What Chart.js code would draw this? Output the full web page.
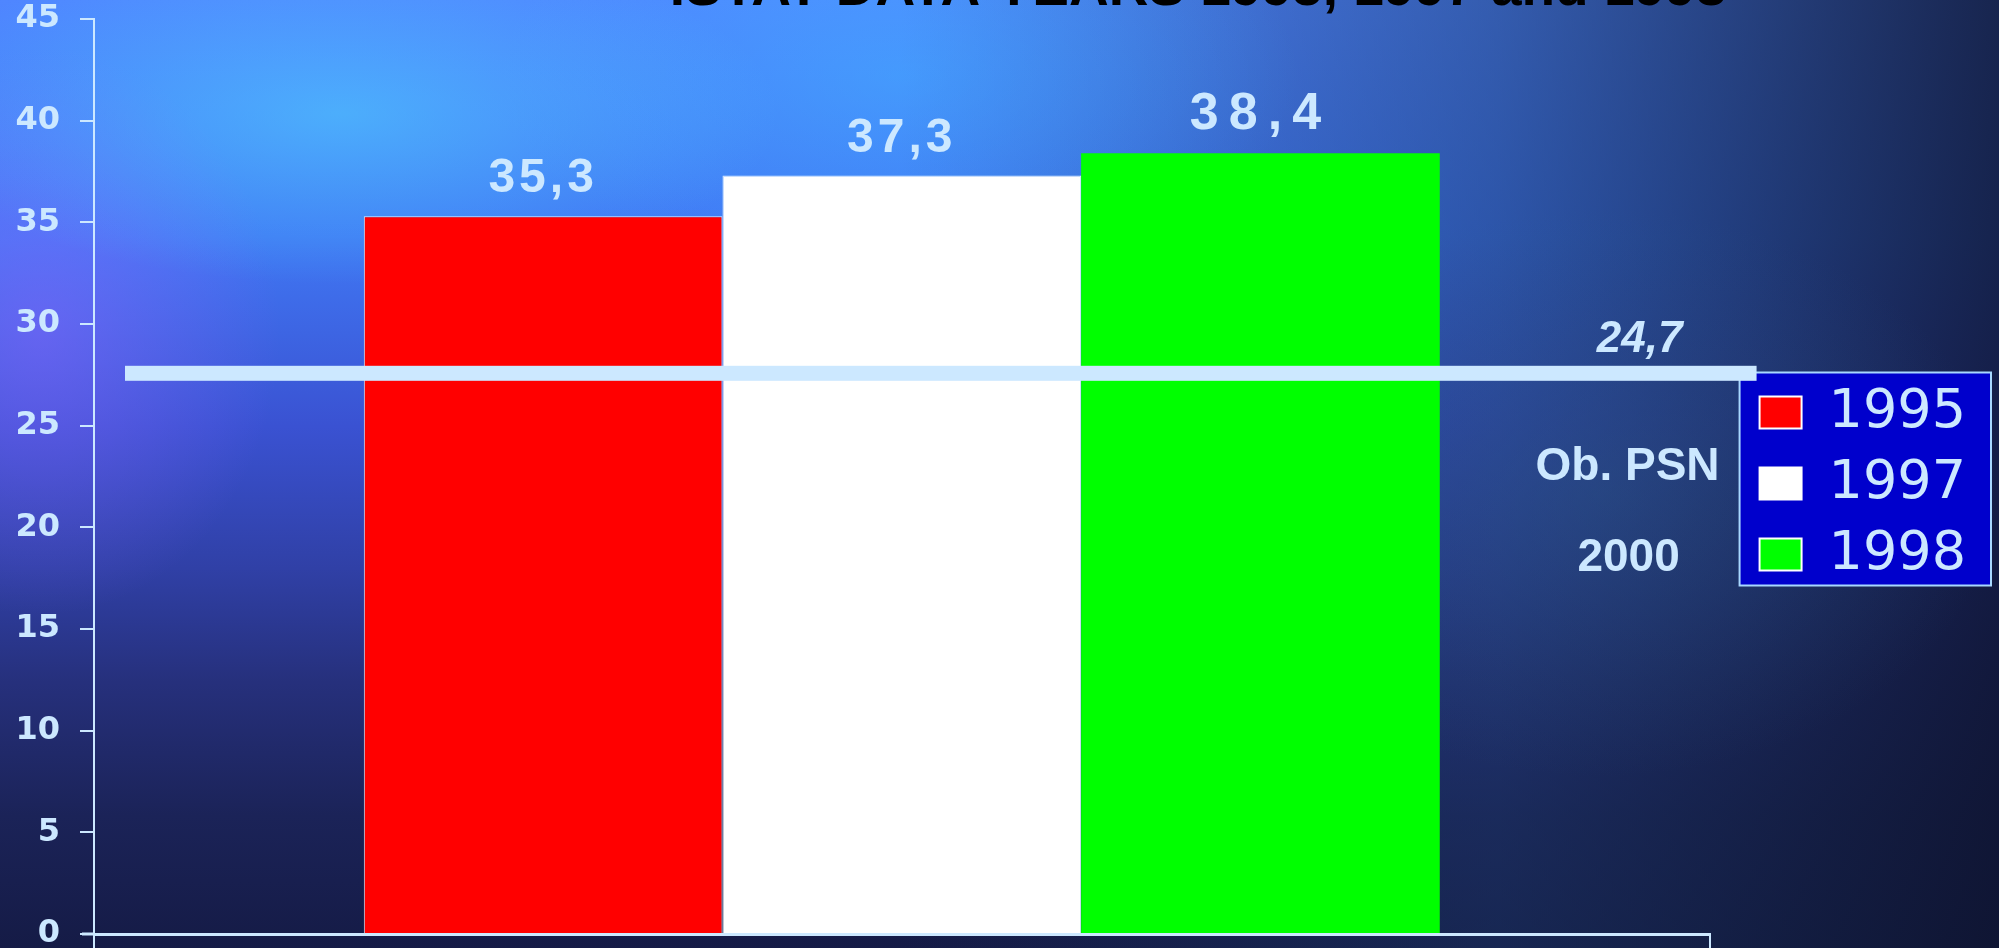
<!DOCTYPE html>
<html lang="en">
<head>
    <meta charset="UTF-8">
    <title>ISTAT data years 1995, 1997 and 1998</title>
    <style>
        body {
            margin: 0;
            width: 1999px;
            height: 948px;
            overflow: hidden;
            background:
                radial-gradient(ellipse 22% 18% at 17% 12%, rgba(80, 220, 255, 0.5), rgba(80, 220, 255, 0) 100%),
                radial-gradient(ellipse 20% 22% at 45% 8%, rgba(60, 190, 255, 0.4), rgba(60, 190, 255, 0) 100%),
                radial-gradient(ellipse 12% 30% at 2% 35%, rgba(140, 100, 255, 0.5), rgba(140, 100, 255, 0) 100%),
                radial-gradient(ellipse 20% 30% at 80% 52%, rgba(45, 95, 135, 0.35), rgba(45, 95, 135, 0) 100%),
                linear-gradient(to right, rgba(10, 15, 40, 0) 45%, rgba(25, 50, 95, 0.5) 75%, rgba(14, 20, 48, 0.85) 100%),
                linear-gradient(to bottom, #4f86ff 0%, #4078f4 25%, #3a52d2 45%, #3040a6 60%, #26307c 72%, #1b2358 86%, #151b46 100%);
        }
        #chart-container {
            position: relative;
            width: 1999px;
            height: 948px;
        }
    </style>
</head>
<body>
    <div id="chart-container">
        <canvas id="istatChart"></canvas>
    </div>

    <script src="https://cdn.jsdelivr.net/npm/chart.js"></script>

    <script>
        // Chart data
        const titleText = 'ISTAT DATA YEARS 1995, 1997 and 1998';
        const categories = [''];
        const years = ['1995', '1997', '1998'];
        const values = [35.3, 37.3, 38.4];
        const valueLabels = ['35,3', '37,3', '38,4'];
        const refLineValue = 27.6;
        const refLineLabel = '24,7';
        const refNoteLines = ['Ob. PSN', '2000'];
        const yMin = 0;
        const yMax = 45;
        const yStep = 5;

        // Styles
        const barColors = ['#ff0000', '#ffffff', '#00ff00'];
        const barBorders = [1, 1, 0];
        const labelSizes = [48, 48, 52];
        const labelSpacing = ['4px', '4px', '10px'];
        const paleBlue = '#cce8ff';

        // Title, cut off by the top edge like in the slide
        const titlePlugin = {
            id: 'slideTitle',
            afterDraw(chart) {
                const ctx = chart.ctx;
                ctx.save();
                ctx.font = 'bold 55px "Liberation Sans", Arial, sans-serif';
                ctx.fillStyle = '#000000';
                ctx.textAlign = 'center';
                ctx.textBaseline = 'alphabetic';
                ctx.fillText(titleText, 1198, 5);
                ctx.restore();
            }
        };

        // Blue box behind the legend
        const legendBoxPlugin = {
            id: 'legendBox',
            beforeDraw(chart) {
                const boxes = chart.legend && chart.legend.legendHitBoxes;
                if (!boxes || !boxes.length) return;
                const first = boxes[0];
                const last = boxes[boxes.length - 1];
                const left = first.left - 20;
                const top = first.top - 13;
                const right = chart.width - 8;
                const bottom = last.top + last.height + 4;
                const ctx = chart.ctx;
                ctx.save();
                ctx.fillStyle = '#0000cc';
                ctx.fillRect(left, top, right - left, bottom - top);
                ctx.strokeStyle = '#a8d8ff';
                ctx.lineWidth = 2;
                ctx.strokeRect(left, top, right - left, bottom - top);
                ctx.restore();
            }
        };

        // Value labels above bars
        const valueLabelPlugin = {
            id: 'valueLabels',
            afterDatasetsDraw(chart) {
                const ctx = chart.ctx;
                ctx.save();
                ctx.fillStyle = paleBlue;
                ctx.textAlign = 'center';
                ctx.textBaseline = 'alphabetic';
                chart.data.datasets.forEach((ds, i) => {
                    const bar = chart.getDatasetMeta(i).data[0];
                    ctx.font = 'bold ' + labelSizes[i] + 'px "Liberation Sans", Arial, sans-serif';
                    ctx.letterSpacing = labelSpacing[i];
                    ctx.fillText(valueLabels[i], bar.x, bar.y - 24);
                });
                ctx.restore();
            }
        };

        // Reference line with its note, plus the short stub of x axis left of the y axis
        const refLinePlugin = {
            id: 'refLine',
            afterDraw(chart) {
                const ctx = chart.ctx;
                const area = chart.chartArea;
                const y = chart.scales.y.getPixelForValue(refLineValue);
                ctx.save();
                ctx.fillStyle = paleBlue;
                ctx.fillRect(area.left + 31, y - 7, area.right - area.left + 16, 15);
                ctx.fillRect(area.left - 12, area.bottom - 1.5, 12, 3);

                ctx.textAlign = 'center';
                ctx.textBaseline = 'alphabetic';
                ctx.font = 'italic bold 44px "Liberation Sans", Arial, sans-serif';
                ctx.fillText(refLineLabel, area.right - 70, y - 21);

                ctx.font = 'bold 46px "Liberation Sans", Arial, sans-serif';
                ctx.textBaseline = 'middle';
                ctx.fillText(refNoteLines[0], area.right - 82, y + 95);
                ctx.fillText(refNoteLines[1], area.right - 81, y + 186);
                ctx.restore();
            }
        };

        const datasets = years.map((year, i) => ({
            label: year,
            data: [values[i]],
            backgroundColor: barColors[i],
            borderColor: '#d8eeff',
            borderWidth: barBorders[i],
            borderSkipped: 'bottom',
            categoryPercentage: 0.666,
            barPercentage: 1.0
        }));

        const ctx = document.getElementById('istatChart').getContext('2d');
        const istatChart = new Chart(ctx, {
            type: 'bar',
            data: {
                labels: categories,
                datasets: datasets
            },
            options: {
                responsive: true,
                maintainAspectRatio: false,
                devicePixelRatio: 1,
                animation: false,
                layout: {
                    padding: { top: 19, right: 23, bottom: 0, left: 0 }
                },
                plugins: {
                    title: { display: false },
                    tooltip: { enabled: false },
                    legend: {
                        position: 'right',
                        align: 'center',
                        labels: {
                            boxWidth: 42,
                            boxHeight: 32,
                            padding: 17,
                            color: paleBlue,
                            font: { family: 'DejaVu Sans', size: 54, lineHeight: 1.2 },
                            generateLabels: (chart) => {
                                return Chart.defaults.plugins.legend.labels.generateLabels(chart).map(item => {
                                    item.strokeStyle = '#ffffff';
                                    item.lineWidth = 2;
                                    return item;
                                });
                            }
                        }
                    }
                },
                scales: {
                    x: {
                        grid: {
                            offset: true,
                            drawOnChartArea: false,
                            drawTicks: true,
                            tickLength: 14,
                            color: paleBlue,
                            lineWidth: 2
                        },
                        border: { color: paleBlue, width: 3 },
                        ticks: { display: false }
                    },
                    y: {
                        min: yMin,
                        max: yMax,
                        ticks: {
                            stepSize: yStep,
                            color: paleBlue,
                            padding: 20,
                            font: { family: 'DejaVu Sans', weight: 'bold', size: 32 }
                        },
                        grid: {
                            drawOnChartArea: false,
                            drawTicks: true,
                            tickLength: 14,
                            color: paleBlue,
                            lineWidth: 2
                        },
                        border: { color: paleBlue, width: 2 },
                        afterFit(scale) {
                            scale.width = 94;
                            scale.paddingTop = 0;
                            scale.paddingBottom = 0;
                        }
                    },
                    gap: {
                        position: 'right',
                        display: true,
                        grid: { display: false },
                        border: { display: false },
                        ticks: { display: false },
                        afterFit(scale) {
                            scale.width = 33;
                        }
                    }
                }
            },
            plugins: [legendBoxPlugin, valueLabelPlugin, refLinePlugin, titlePlugin]
        });
    </script>
</body>
</html>
